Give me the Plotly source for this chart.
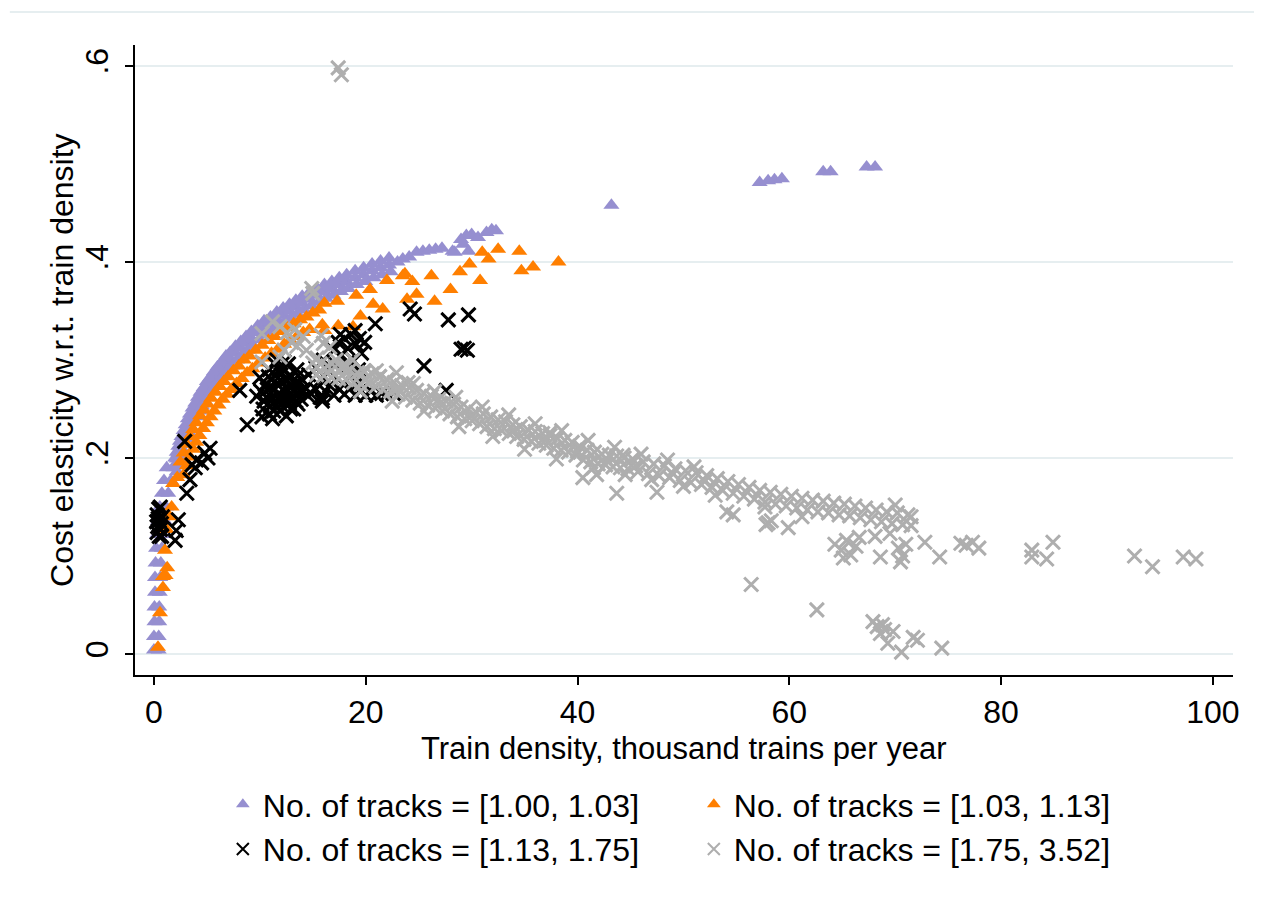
import plotly.graph_objects as go

# ---------------- data ----------------
# Series 1: No. of tracks = [1.00, 1.03]
purple_pts = [
    (0.0, 0.004), (0.45, 0.004), (0.0, 0.018), (0.45, 0.018), (0.05, 0.033), (0.5, 0.033),
    (0.05, 0.048), (0.5, 0.048), (0.1, 0.063), (0.55, 0.063), (0.1, 0.078), (0.6, 0.078),
    (0.15, 0.093), (0.65, 0.093), (0.2, 0.108), (0.75, 0.108), (0.3, 0.122), (0.85, 0.122),
    (0.4, 0.136), (1.0, 0.136), (0.55, 0.15), (1.15, 0.15), (0.75, 0.164), (1.35, 0.164),
    (0.95, 0.177), (1.6, 0.177), (1.2, 0.19), (1.85, 0.19),
    (2.0, 0.193), (2.15, 0.199), (2.3, 0.205), (2.45, 0.210), (2.6, 0.215), (2.8, 0.221),
    (3.0, 0.227), (3.2, 0.233), (3.4, 0.238), (3.65, 0.244), (3.9, 0.249), (4.15, 0.255),
    (4.4, 0.260), (4.7, 0.265), (5.0, 0.271), (5.3, 0.275), (5.65, 0.281), (6.0, 0.286),
    (6.4, 0.291), (6.8, 0.297), (7.2, 0.301), (7.7, 0.307), (8.2, 0.312), (8.7, 0.317),
    (9.2, 0.322), (9.8, 0.328), (10.4, 0.333), (11.0, 0.337), (11.6, 0.342), (12.2, 0.346),
    (12.8, 0.350), (13.4, 0.354), (14.0, 0.358), (14.7, 0.362), (15.4, 0.366), (16.1, 0.370),
    (16.8, 0.373), (17.5, 0.377), (18.2, 0.380), (19.0, 0.384), (19.8, 0.387), (20.6, 0.391),
    (21.4, 0.394), (22.2, 0.397), (23.0, 0.400),
    (2.0, 0.200), (2.15, 0.206), (2.3, 0.212), (2.45, 0.217), (2.6, 0.222), (2.8, 0.228),
    (3.0, 0.234), (3.2, 0.240), (3.4, 0.245), (3.65, 0.251), (3.9, 0.256), (4.15, 0.262),
    (4.4, 0.267), (4.7, 0.272), (5.0, 0.278), (5.3, 0.282), (5.65, 0.288), (6.0, 0.293),
    (6.4, 0.298), (6.8, 0.304), (7.2, 0.308), (7.7, 0.314), (8.2, 0.319), (8.7, 0.324),
    (9.2, 0.329), (9.8, 0.335), (10.4, 0.340), (11.0, 0.344), (11.6, 0.349), (12.2, 0.353),
    (12.8, 0.357), (13.4, 0.361), (14.0, 0.365), (14.7, 0.369), (15.4, 0.373), (16.1, 0.377),
    (16.8, 0.380), (17.5, 0.384), (18.2, 0.387), (19.0, 0.391), (19.8, 0.394), (20.6, 0.398),
    (21.4, 0.401), (22.2, 0.404),
    (2.15, 0.186), (2.3, 0.192), (2.45, 0.198), (2.6, 0.203), (2.75, 0.208), (2.95, 0.214),
    (3.15, 0.220), (3.35, 0.226), (3.55, 0.231), (3.8, 0.237), (4.05, 0.242), (4.3, 0.248),
    (4.55, 0.253), (4.85, 0.258), (5.15, 0.264), (5.45, 0.268), (5.8, 0.274), (6.15, 0.279),
    (6.55, 0.284), (6.95, 0.290), (7.35, 0.294), (7.85, 0.300), (8.35, 0.305), (8.85, 0.310),
    (9.35, 0.315), (9.95, 0.321), (10.55, 0.326), (11.15, 0.330), (11.75, 0.335), (12.35, 0.339),
    (12.95, 0.343), (13.55, 0.347), (14.15, 0.351), (14.85, 0.355), (15.55, 0.359), (16.25, 0.363),
    (16.95, 0.366), (17.65, 0.370), (18.35, 0.373), (19.15, 0.377), (19.95, 0.380), (20.75, 0.384),
    (21.55, 0.387), (22.35, 0.390),
    (23.5, 0.403), (24.1, 0.405), (24.8, 0.410), (25.4, 0.411), (26.0, 0.412), (26.6, 0.413),
    (27.2, 0.414), (28.2, 0.411), (28.4, 0.410), (29.0, 0.423), (29.2, 0.418), (29.5, 0.427),
    (29.7, 0.411), (30.0, 0.428), (30.6, 0.425), (31.4, 0.430), (31.9, 0.433), (32.3, 0.432),
    (43.2, 0.458), (57.2, 0.481), (58.0, 0.483), (58.6, 0.484), (59.3, 0.485),
    (63.2, 0.492), (63.9, 0.492), (67.3, 0.497), (68.1, 0.497),
]

# Series 2: No. of tracks = [1.03, 1.13]
orange_pts = [
    (0.38, 0.007), (0.57, 0.042), (0.85, 0.068), (0.85, 0.079), (1.1, 0.08), (1.25, 0.088),
    (1.04, 0.106), (1.2, 0.127), (1.67, 0.15), (1.5, 0.14), (1.8, 0.174), (2.2, 0.18),
    (2.5, 0.196), (2.8, 0.205), (3.1, 0.214), (3.4, 0.222), (3.7, 0.229), (4.0, 0.236),
    (4.35, 0.243), (4.7, 0.249), (5.05, 0.255), (5.4, 0.261), (5.8, 0.267), (6.2, 0.273),
    (6.6, 0.278), (7.0, 0.283), (7.5, 0.289), (8.0, 0.294), (8.5, 0.300), (9.0, 0.304),
    (9.6, 0.310), (10.2, 0.315), (10.8, 0.320), (11.4, 0.324), (12.0, 0.329), (12.6, 0.333),
    (13.2, 0.337), (13.8, 0.341), (14.4, 0.344), (15.0, 0.348), (15.6, 0.351),
    (2.8, 0.183), (3.1, 0.192), (3.4, 0.201), (3.7, 0.209), (4.0, 0.216), (4.3, 0.223),
    (4.65, 0.230), (5.0, 0.236), (5.35, 0.242), (5.7, 0.248), (6.1, 0.254), (6.5, 0.260),
    (6.9, 0.265), (7.3, 0.270), (7.8, 0.276), (8.3, 0.281), (8.8, 0.287), (9.3, 0.291),
    (9.9, 0.297), (10.5, 0.302), (11.1, 0.307), (11.7, 0.311), (12.3, 0.316), (12.9, 0.320),
    (13.5, 0.324), (14.1, 0.328), (14.7, 0.331),
    (16.1, 0.358), (17.3, 0.360), (19.1, 0.366), (20.4, 0.372), (22.0, 0.381), (23.5, 0.386),
    (16.1, 0.330), (17.4, 0.335), (18.8, 0.334), (19.5, 0.345), (20.7, 0.357), (21.6, 0.352),
    (23.7, 0.388), (24.4, 0.380), (23.9, 0.362), (24.8, 0.367), (26.2, 0.386), (26.5, 0.360),
    (28.0, 0.372), (28.9, 0.390), (29.8, 0.398), (30.8, 0.381), (31.0, 0.410), (31.6, 0.403),
    (32.5, 0.413), (34.5, 0.411), (34.7, 0.391), (35.8, 0.395), (38.2, 0.400), (15.9, 0.336),
]

# Series 3: No. of tracks = [1.13, 1.75]
black_pts = [
    (0.3, 0.142), (0.5, 0.136), (0.35, 0.13), (0.6, 0.127), (0.45, 0.148), (0.7, 0.133),
    (0.3, 0.124), (0.8, 0.14), (0.5, 0.12), (0.6, 0.15), (0.4, 0.138), (0.55, 0.128),
    (0.72, 0.12), (0.25, 0.135), (2.3, 0.137), (2.1, 0.126), (2.0, 0.116),
    (2.9, 0.217), (3.6, 0.193), (4.0, 0.198), (4.8, 0.205), (5.1, 0.2), (4.5, 0.195),
    (3.4, 0.178), (3.1, 0.164), (3.9, 0.19), (5.3, 0.21),
    (8.1, 0.269), (8.8, 0.234), (10.0, 0.282), (9.7, 0.263), (10.2, 0.242),
    (10.3, 0.25), (10.6, 0.262), (10.9, 0.245), (11.0, 0.272), (11.3, 0.256), (11.5, 0.284),
    (11.7, 0.265), (11.9, 0.248), (12.1, 0.278), (12.2, 0.29), (12.4, 0.258), (12.6, 0.27),
    (12.8, 0.284), (12.9, 0.25), (13.1, 0.262), (13.3, 0.276), (13.5, 0.29), (13.6, 0.255),
    (13.8, 0.268), (14.0, 0.28), (10.8, 0.283), (11.4, 0.296), (12.0, 0.262), (12.7, 0.296),
    (13.2, 0.25), (10.5, 0.275), (11.2, 0.24), (11.8, 0.29), (12.5, 0.243), (13.9, 0.26),
    (14.3, 0.272), (14.5, 0.264), (10.1, 0.268), (12.3, 0.268), (13.0, 0.283),
    (10.4, 0.258), (10.7, 0.27), (11.0, 0.253), (11.1, 0.262), (11.4, 0.27), (11.6, 0.276),
    (11.9, 0.258), (12.2, 0.252), (12.5, 0.28), (12.6, 0.262), (12.9, 0.274), (13.2, 0.268),
    (13.4, 0.258), (13.7, 0.276), (12.0, 0.285), (11.3, 0.248), (10.9, 0.29), (12.8, 0.256),
    (13.6, 0.284), (14.1, 0.268), (11.6, 0.3), (12.3, 0.298),
    (14.8, 0.266), (15.3, 0.27), (15.7, 0.262), (16.2, 0.268), (16.6, 0.274), (17.0, 0.264),
    (17.5, 0.27), (18.0, 0.265), (18.5, 0.271), (19.0, 0.264), (19.5, 0.268), (20.0, 0.264),
    (20.5, 0.268), (21.0, 0.264), (21.5, 0.266), (22.0, 0.265), (22.6, 0.266), (15.9, 0.258),
    (17.8, 0.276), (19.2, 0.276),
    (17.0, 0.31), (17.4, 0.318), (17.7, 0.305), (18.0, 0.322), (18.3, 0.312), (18.6, 0.326),
    (18.8, 0.3), (19.1, 0.316), (19.4, 0.322), (19.6, 0.307), (19.9, 0.318), (18.2, 0.297),
    (17.6, 0.326), (19.0, 0.33),
    (14.6, 0.285), (15.3, 0.292), (16.0, 0.3), (16.5, 0.29), (15.8, 0.28), (17.2, 0.295),
    (18.8, 0.287), (19.3, 0.29),
    (20.9, 0.337), (24.2, 0.352), (24.6, 0.347), (27.8, 0.341), (29.7, 0.346),
    (29.0, 0.311), (29.3, 0.312), (29.6, 0.31), (25.5, 0.294), (27.6, 0.269), (15.9, 0.261),
]

# Series 4: No. of tracks = [1.75, 3.52]
gray_pts = [
    (17.4, 0.598), (17.7, 0.591), (14.9, 0.373), (15.0, 0.368),
    (10.2, 0.327), (11.2, 0.339), (11.9, 0.334), (12.6, 0.328), (13.3, 0.331), (14.1, 0.324),
    (10.2, 0.298), (11.9, 0.303), (13.5, 0.314), (14.4, 0.31), (15.4, 0.302), (16.6, 0.313),
    (17.2, 0.3), (17.9, 0.293), (18.8, 0.3), (19.8, 0.289), (21.3, 0.283), (22.9, 0.287),
    (24.5, 0.276), (16.0, 0.317), (13.0, 0.318), (15.8, 0.325), (12.3, 0.31),
    (15.0, 0.297), (15.7, 0.296), (16.4, 0.294), (17.1, 0.293), (17.8, 0.291), (18.5, 0.290),
    (19.2, 0.287), (19.9, 0.288), (20.6, 0.286), (21.3, 0.283), (22.0, 0.280), (22.7, 0.277),
    (23.4, 0.274), (24.1, 0.272), (24.8, 0.269), (25.5, 0.266), (26.2, 0.263), (26.9, 0.260),
    (27.6, 0.258), (28.3, 0.255), (29.0, 0.252), (29.7, 0.250), (30.4, 0.247), (31.1, 0.245),
    (31.8, 0.242), (32.5, 0.239), (33.2, 0.237), (33.9, 0.234), (34.6, 0.232), (35.3, 0.229),
    (36.0, 0.227), (36.7, 0.225), (37.4, 0.223), (38.1, 0.220), (38.8, 0.218), (39.5, 0.216),
    (40.2, 0.212), (40.9, 0.208), (41.6, 0.206), (42.3, 0.204), (43.0, 0.203), (43.7, 0.202),
    (44.4, 0.200), (45.2, 0.199), (46.2, 0.196), (47.2, 0.194), (48.2, 0.192), (49.2, 0.189),
    (50.2, 0.187), (51.2, 0.185), (52.2, 0.182), (53.2, 0.179), (54.2, 0.176), (55.2, 0.173),
    (56.2, 0.170), (57.2, 0.167), (58.2, 0.165), (59.2, 0.163), (60.2, 0.161), (61.2, 0.159),
    (62.2, 0.157), (63.2, 0.156), (64.2, 0.154), (65.2, 0.153), (66.2, 0.151), (67.2, 0.149),
    (68.2, 0.147), (69.2, 0.145), (70.2, 0.144), (71.2, 0.142),
    (15.35, 0.285), (16.05, 0.284), (16.75, 0.282), (17.45, 0.281), (18.15, 0.280), (18.85, 0.277),
    (19.55, 0.275), (20.25, 0.276), (20.95, 0.273), (21.65, 0.270), (22.35, 0.268), (23.05, 0.265),
    (23.75, 0.262), (24.45, 0.259), (25.15, 0.256), (25.85, 0.254), (26.55, 0.251), (27.25, 0.248),
    (27.95, 0.245), (28.65, 0.242), (29.35, 0.240), (30.05, 0.238), (30.75, 0.235), (31.45, 0.232),
    (32.15, 0.230), (32.85, 0.228), (33.55, 0.225), (34.25, 0.222), (34.95, 0.219), (35.65, 0.217),
    (36.35, 0.215), (37.05, 0.213), (37.75, 0.210), (38.45, 0.208), (39.15, 0.206), (39.85, 0.203),
    (40.55, 0.198), (41.25, 0.196), (41.95, 0.194), (42.65, 0.193), (43.35, 0.191), (44.05, 0.190),
    (44.75, 0.189), (45.7, 0.186), (46.7, 0.184), (47.7, 0.182), (48.7, 0.180), (49.7, 0.177),
    (50.7, 0.175), (51.7, 0.173), (52.7, 0.170), (53.7, 0.167), (54.7, 0.164), (55.7, 0.161),
    (56.7, 0.158), (57.7, 0.155), (58.7, 0.153), (59.7, 0.151), (60.7, 0.149), (61.7, 0.147),
    (62.7, 0.145), (63.7, 0.144), (64.7, 0.142), (65.7, 0.141), (66.7, 0.139), (67.7, 0.137),
    (68.7, 0.135), (69.7, 0.133), (70.7, 0.132), (71.5, 0.131),
    (18.0, 0.296), (21.0, 0.289), (24.0, 0.277), (26.5, 0.268), (28.5, 0.262), (31.0, 0.252),
    (33.5, 0.244), (36.0, 0.235), (38.5, 0.228), (41.0, 0.218), (43.5, 0.211), (46.0, 0.204),
    (48.5, 0.198), (51.0, 0.191), (19.5, 0.268), (22.5, 0.258), (25.5, 0.248), (28.8, 0.232),
    (32.0, 0.222), (35.0, 0.209), (38.0, 0.199), (41.5, 0.19), (44.5, 0.183), (47.0, 0.178),
    (50.0, 0.171), (53.0, 0.162), (37.4, 0.226), (44.3, 0.203),
    (20.0, 0.281), (23.0, 0.271), (27.0, 0.256), (30.0, 0.243), (34.0, 0.228), (37.0, 0.218),
    (40.0, 0.207), (42.8, 0.198), (45.5, 0.192), (49.0, 0.184), (52.0, 0.176),
    (40.5, 0.18), (41.8, 0.183), (43.7, 0.164), (47.5, 0.165), (54.1, 0.145), (54.7, 0.142),
    (57.7, 0.15), (58.0, 0.134), (58.3, 0.136), (57.8, 0.132), (59.9, 0.129), (61.2, 0.14),
    (64.3, 0.112), (64.9, 0.106), (65.4, 0.116), (65.8, 0.101), (66.3, 0.11), (66.6, 0.119),
    (65.1, 0.098), (68.1, 0.12), (68.6, 0.099), (69.5, 0.123), (70.3, 0.108), (70.7, 0.1),
    (70.5, 0.094), (71.0, 0.112), (72.8, 0.114), (74.2, 0.099), (76.2, 0.113), (76.7, 0.111),
    (77.3, 0.114), (77.9, 0.108), (82.9, 0.106), (82.9, 0.099), (84.3, 0.097), (84.9, 0.114),
    (92.6, 0.1), (94.3, 0.089), (97.2, 0.099), (98.4, 0.097), (70.0, 0.152), (71.5, 0.14),
    (56.4, 0.071), (62.6, 0.045),
    (67.9, 0.033), (68.8, 0.03), (68.6, 0.021), (69.8, 0.023), (69.3, 0.011), (70.6, 0.002),
    (71.7, 0.017), (72.1, 0.014), (74.4, 0.006), (68.3, 0.028), (69.0, 0.025),
]

series_names = [
    "No. of tracks = [1.00, 1.03]",
    "No. of tracks = [1.03, 1.13]",
    "No. of tracks = [1.13, 1.75]",
    "No. of tracks = [1.75, 3.52]",
]
series_pts = [purple_pts, orange_pts, black_pts, gray_pts]
series_colors = ["#968FD0", "#FF7F00", "#000000", "#AEAEAE"]
series_symbols = ["triangle-up", "triangle-up", "x-thin", "x-thin"]

x_ticks = [0, 20, 40, 60, 80, 100]
y_ticks = [0, 0.2, 0.4, 0.6]
y_ticktext = ["0", ".2", ".4", ".6"]
x_title = "Train density, thousand trains per year"
y_title = "Cost elasticity w.r.t. train density"

FONT = "Liberation Sans, Arial, sans-serif"

fig = go.Figure()
for name, pts, col, sym in zip(series_names, series_pts, series_colors, series_symbols):
    xs = [p[0] for p in pts]
    ys = [p[1] for p in pts]
    if sym.startswith("triangle"):
        marker = dict(symbol=sym, size=14, color=col, line=dict(width=0))
    else:
        marker = dict(symbol=sym, size=14, color=col, line=dict(width=3, color=col))
    fig.add_trace(go.Scatter(x=xs, y=ys, mode="markers", name=name, marker=marker))

# note: the page body has an 8px margin, margins are compensated for it
fig.update_layout(
    width=1262, height=917,
    margin=dict(l=127, r=37, t=37, b=250),
    paper_bgcolor="white", plot_bgcolor="white",
    font=dict(family=FONT, size=32, color="black"),
    showlegend=True,
    legend=dict(
        orientation="h", x=0.08, xanchor="left", y=-0.162, yanchor="top",
        entrywidth=426, entrywidthmode="pixels", itemsizing="constant",
        font=dict(family=FONT, size=32, color="black"),
        bgcolor="rgba(0,0,0,0)",
    ),
    shapes=[dict(type="line", xref="paper", yref="paper", x0=-0.114, x1=1.03,
                 y0=1.0524, y1=1.0524, line=dict(color="#E6EEF0", width=2))],
    annotations=[
        dict(text=x_title, xref="paper", yref="paper", x=0.5, y=-0.1165,
             xanchor="center", yanchor="middle", showarrow=False,
             font=dict(family=FONT, size=31, color="black")),
        dict(text=y_title, xref="paper", yref="paper", x=-0.0665, y=0.5,
             xanchor="center", yanchor="middle", textangle=-90, showarrow=False,
             font=dict(family=FONT, size=32, color="black")),
    ],
)

fig.update_xaxes(
    range=[-1.79, 101.9], tickvals=x_ticks, ticks="outside", ticklen=8, tickwidth=1.5,
    tickcolor="black", showline=True, linecolor="black", linewidth=1.5,
    showgrid=False, zeroline=False,
    tickfont=dict(family=FONT, size=32),
)
fig.update_yaxes(
    range=[-0.0214, 0.6214], tickvals=y_ticks, ticktext=y_ticktext, tickangle=-90,
    ticks="outside", ticklen=8, tickwidth=1.5, tickcolor="black",
    showline=True, linecolor="black", linewidth=1.5,
    showgrid=True, gridcolor="#E6EEF0", gridwidth=2, zeroline=False,
    tickfont=dict(family=FONT, size=32), ticklabelstandoff=4,
)

fig.write_html("out.html")
